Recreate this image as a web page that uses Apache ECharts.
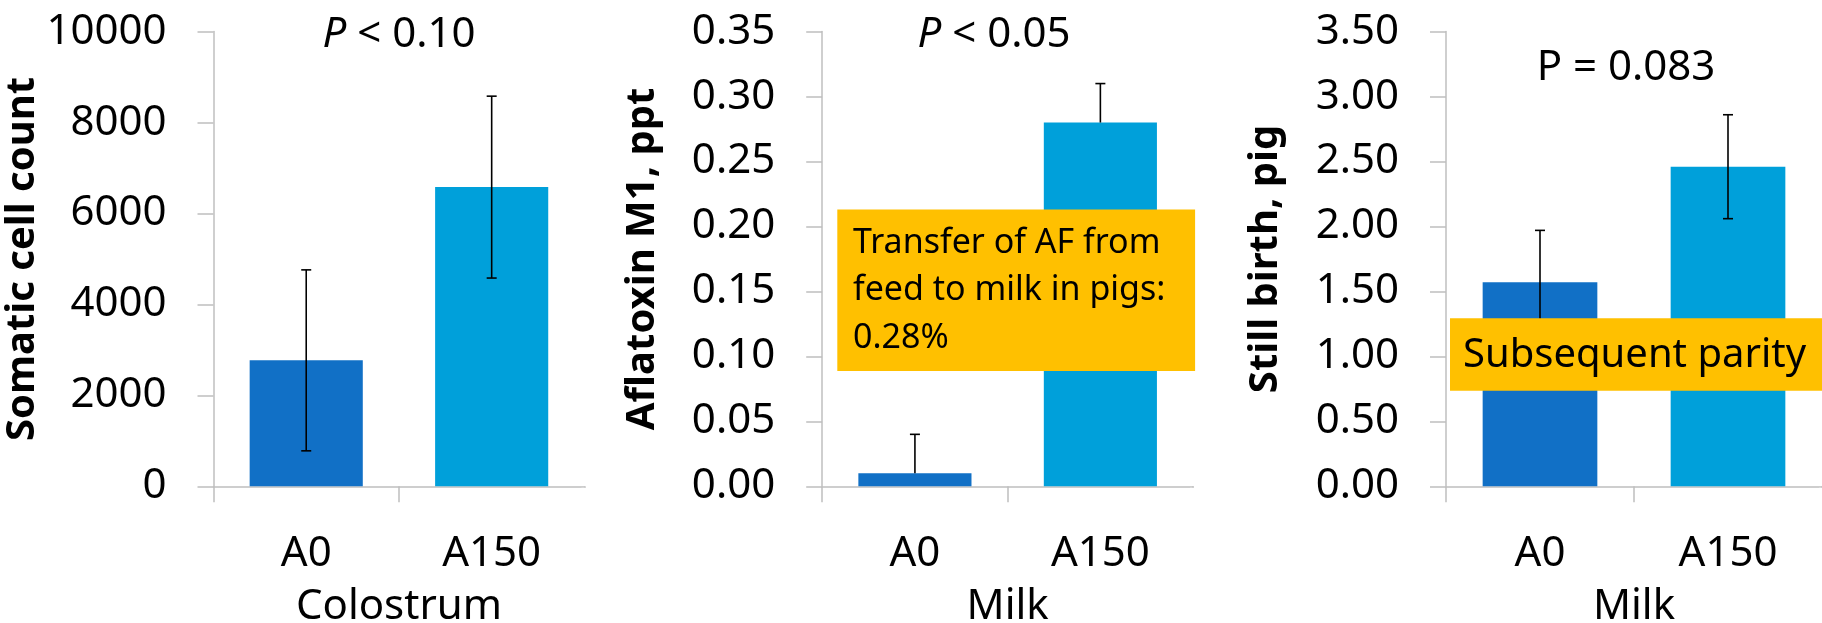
<!DOCTYPE html>
<html>
<head>
<meta charset="utf-8">
<script src="https://cdn.jsdelivr.net/npm/echarts@6/dist/echarts.min.js"></script>
<style>
html,body{margin:0;padding:0;background:#fff;}
#c{width:1822px;height:623px;}
</style>
</head>
<body>
<div id="c"></div>
<script>
// ---- data ----
const categories = ['A0', 'A150'];
const barColors = ['#1170C6', '#00A0DA'];

const sccMean = [2770, 6580];
const sccErrPlus = [1990, 2000];
const sccErrMinus = [1990, 2000];

const afm1Mean = [0.01, 0.28];
const afm1ErrPlus = [0.03, 0.03];
const afm1ErrMinus = [0, 0];

const stillMean = [1.57, 2.46];
const stillErrPlus = [0.40, 0.40];
const stillErrMinus = [0.40, 0.40];

const yMax = [10000, 0.35, 3.5];
const yInterval = [2000, 0.05, 0.5];
const yDecimals = [0, 2, 2];
const yNames = ['Somatic cell count', 'Aflatoxin M1, ppt', 'Still birth, pig'];
const xNames = ['Colostrum', 'Milk', 'Milk'];
const pTexts = [['P', ' < 0.10'], ['P', ' < 0.05'], [null, 'P = 0.083']];
const note2 = 'Transfer of AF from\nfeed to milk in pigs:\n0.28%';
const note3 = 'Subsequent parity';

// ---- layout ----
const FONT = 'Noto Sans';
const FS = 42;
const gridBase = {top: 31.6, height: 454.7, containLabel: false, outerBoundsMode: 'none'};
const grids = [
  Object.assign({left: 213.5, width: 370.9}, gridBase),
  Object.assign({left: 822.2, width: 370.9}, gridBase),
  Object.assign({left: 1446, width: 376}, gridBase)
];
const yNameGaps = [155, 160, 160];
const axisColor = '#BFBFBF';

const panels = [
  {mean: sccMean, plus: sccErrPlus, minus: sccErrMinus},
  {mean: afm1Mean, plus: afm1ErrPlus, minus: afm1ErrMinus},
  {mean: stillMean, plus: stillErrPlus, minus: stillErrMinus}
];

const xAxes = [], yAxes = [], series = [];
panels.forEach((p, i) => {
  xAxes.push({
    type: 'category', gridIndex: i, data: categories,
    name: xNames[i], nameLocation: 'middle', nameGap: 100,
    nameTextStyle: {fontFamily: FONT, fontSize: FS, color: '#000'},
    axisLine: {lineStyle: {color: axisColor, width: 1.5}},
    axisTick: {show: true, length: 16, lineStyle: {color: axisColor, width: 1.5}},
    axisLabel: {fontFamily: FONT, fontSize: FS, color: '#000', margin: 47}
  });
  yAxes.push({
    type: 'value', gridIndex: i, min: 0, max: yMax[i], interval: yInterval[i],
    name: yNames[i], nameLocation: 'middle', nameGap: yNameGaps[i], nameRotate: 90,
    nameTextStyle: {fontFamily: FONT, fontSize: 40, fontWeight: 'bold', color: '#000'},
    axisLine: {show: true, lineStyle: {color: axisColor, width: 1.5}},
    axisTick: {show: true, length: 16, lineStyle: {color: axisColor, width: 1.5}},
    splitLine: {show: false},
    axisLabel: {fontFamily: FONT, fontSize: FS, color: '#000', margin: 47,
      formatter: v => Number(v).toFixed(yDecimals[i])}
  });
  series.push({
    type: 'bar', xAxisIndex: i, yAxisIndex: i, barWidth: '61%',
    data: p.mean.map((v, k) => ({value: v, itemStyle: {color: barColors[k]}})),
    z: 2
  });
  series.push({
    type: 'custom', xAxisIndex: i, yAxisIndex: i, z: 5,
    data: p.mean.map((v, k) => [k, v, p.plus[k], p.minus[k]]),
    renderItem: function (params, api) {
      const x = api.value(0), m = api.value(1), up = api.value(2), dn = api.value(3);
      const top = api.coord([x, m + up]);
      const bot = api.coord([x, m - dn]);
      const mid = api.coord([x, m]);
      const cw = 5;
      const st = {stroke: '#000', lineWidth: 1.6};
      const ch = [
        {type: 'line', shape: {x1: top[0], y1: top[1], x2: top[0], y2: dn > 0 ? bot[1] : mid[1]}, style: st},
        {type: 'line', shape: {x1: top[0] - cw, y1: top[1], x2: top[0] + cw, y2: top[1]}, style: st}
      ];
      if (dn > 0) ch.push({type: 'line', shape: {x1: bot[0] - cw, y1: bot[1], x2: bot[0] + cw, y2: bot[1]}, style: st});
      return {type: 'group', children: ch};
    }
  });
});

const titlePos = [[399, 35], [994, 35], [1626, 68]];
const graphics = [];
pTexts.forEach((t, i) => {
  const txt = t[0] ? '{i|' + t[0] + '}{n|' + t[1] + '}' : '{n|' + t[1] + '}';
  graphics.push({
    type: 'text', x: titlePos[i][0], y: titlePos[i][1], z: 50,
    style: {
      text: txt, align: 'center', verticalAlign: 'middle', fill: '#000',
      font: FS + 'px "' + FONT + '"',
      rich: {
        i: {fontStyle: 'italic', fontSize: FS, fontFamily: FONT, fill: '#000'},
        n: {fontSize: FS, fontFamily: FONT, fill: '#000'}
      }
    }
  });
});
// the reference has no tick mark at the right end of each category axis
grids.forEach(g => {
  graphics.push({type: 'rect', z: 40, shape: {x: g.left + g.width - 3, y: g.top + g.height + 1.5, width: 6, height: 17}, style: {fill: '#fff'}});
});
// annotation boxes
graphics.push({type: 'rect', z: 60, shape: {x: 837.3, y: 209.6, width: 357.8, height: 161.3}, style: {fill: '#FFC000'}});
graphics.push({type: 'text', z: 61, x: 853, y: 290.6,
  style: {text: note2, fill: '#000', font: '34px "' + FONT + '"', lineHeight: 47.6, align: 'left', verticalAlign: 'middle'}});
graphics.push({type: 'rect', z: 60, shape: {x: 1450, y: 318.3, width: 372, height: 72.4}, style: {fill: '#FFC000'}});
graphics.push({type: 'text', z: 61, x: 1463, y: 355.5,
  style: {text: note3, fill: '#000', font: '40px "' + FONT + '"', align: 'left', verticalAlign: 'middle'}});

const chart = echarts.init(document.getElementById('c'), null, {renderer: 'canvas'});
chart.setOption({
  animation: false,
  backgroundColor: '#fff',
  grid: grids,
  xAxis: xAxes,
  yAxis: yAxes,
  series: series,
  graphic: graphics
});
</script>
</body>
</html>
